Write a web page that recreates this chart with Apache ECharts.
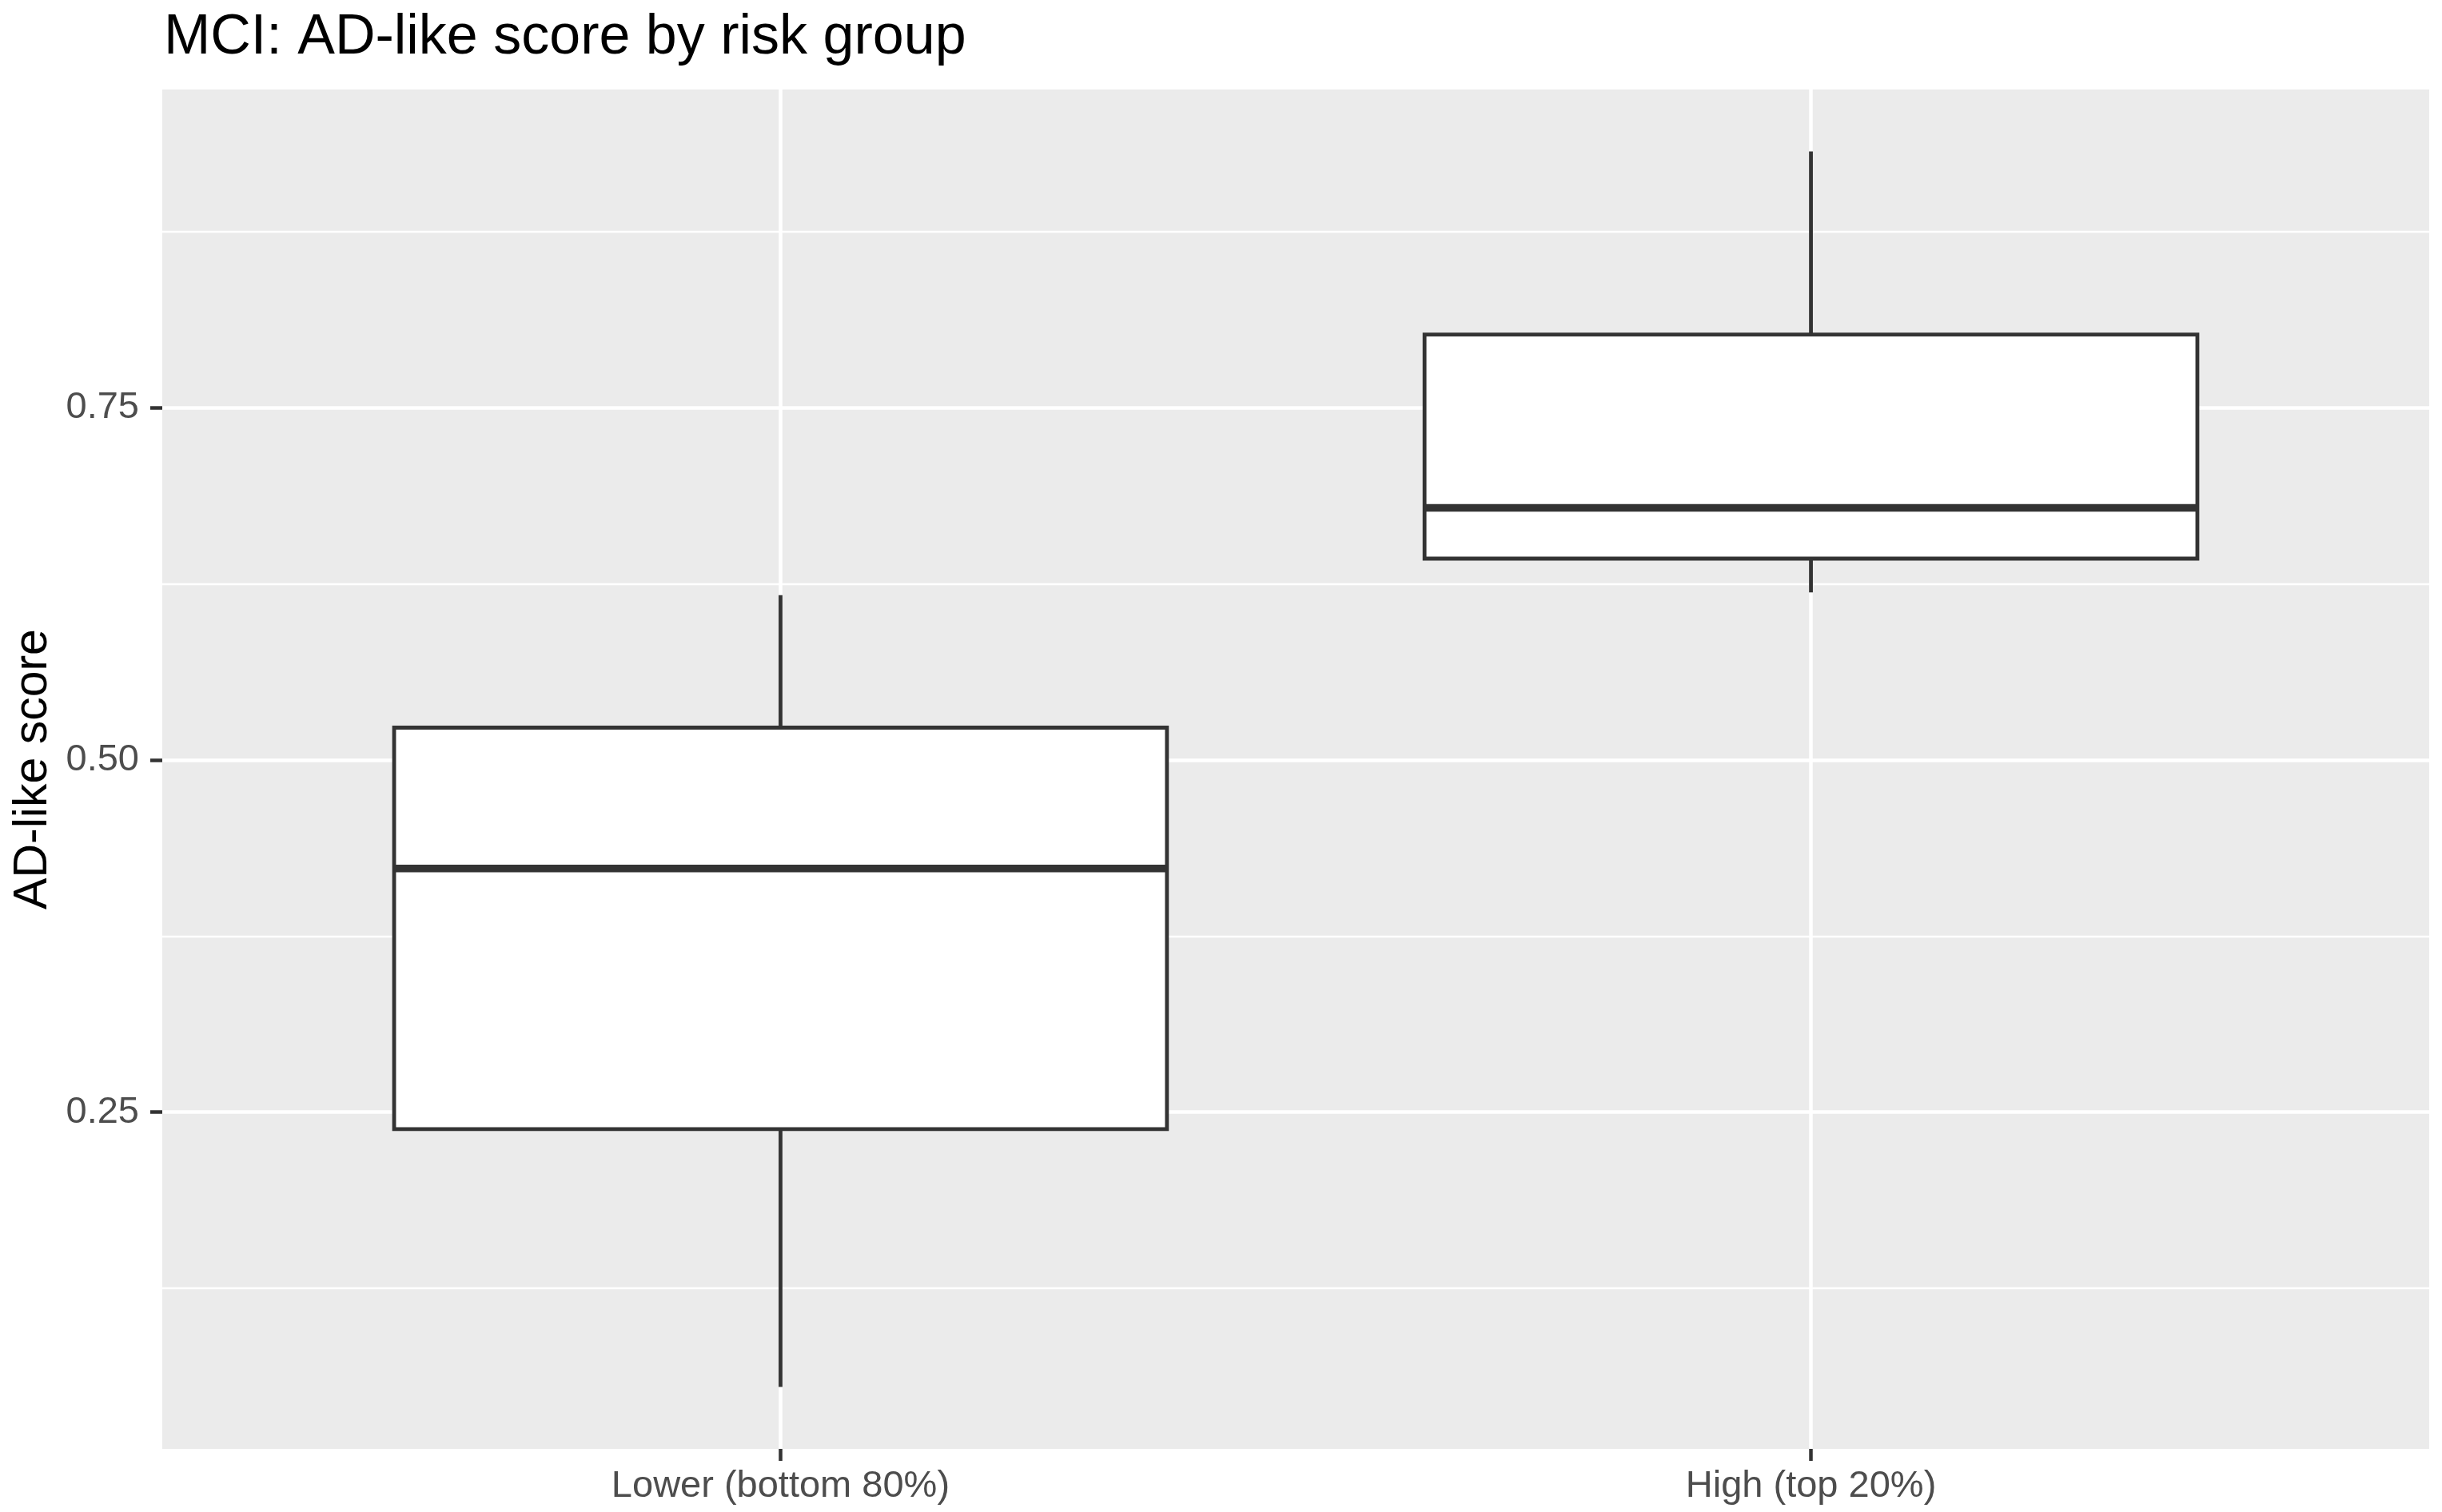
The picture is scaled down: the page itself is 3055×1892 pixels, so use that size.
<!DOCTYPE html>
<html>
<head>
    <meta charset="utf-8">
    <title>MCI: AD-like score by risk group</title>
    <script type="text/javascript" src="https://cdn.jsdelivr.net/npm/echarts@6/dist/echarts.min.js"></script>
    <style>
        html, body { margin: 0; padding: 0; background: #fff; }
        #chartmain { width: 3055px; height: 1892px; }
    </style>
</head>
<body>
<div id="chartmain"></div>

<script type="text/javascript">
    // groups on the x axis, drawn at positions 1 and 2 (ggplot style discrete axis)
    var groups = ['Lower (bottom 80%)', 'High (top 20%)'];
    var groupPos = [1, 2];

    // box statistics
    var whiskerLow  = [0.055, 0.619];
    var q1          = [0.238, 0.643];
    var median      = [0.423, 0.679];
    var q3          = [0.523, 0.802];
    var whiskerHigh = [0.617, 0.932];

    // axis ticks and ranges
    var yTicks = [0.25, 0.50, 0.75];
    var yMinorLines = [0.125, 0.375, 0.625, 0.875];
    var yRange = [0.011, 0.976];
    var xRange = [0.4, 2.6];
    var boxWidth = 0.75;   // in x units, like geom_boxplot

    var font = 'Liberation Sans, Arial, Helvetica, sans-serif';
    var ink = '#333333';

    // one row per box: [x, low, q1, median, q3, high]
    var boxData = [];
    for (var i = 0; i < groups.length; i++) {
        boxData.push([groupPos[i], whiskerLow[i], q1[i], median[i], q3[i], whiskerHigh[i]]);
    }

    function renderBox(params, api) {
        var x = api.value(0);
        var pLow = api.coord([x, api.value(1)]);
        var pQ1 = api.coord([x, api.value(2)]);
        var pMed = api.coord([x, api.value(3)]);
        var pQ3 = api.coord([x, api.value(4)]);
        var pHigh = api.coord([x, api.value(5)]);
        var half = api.size([boxWidth, 0])[0] / 2;
        var lineStyle = { stroke: ink, lineWidth: 4.8 };
        return {
            type: 'group',
            children: [
                { type: 'line', shape: { x1: pLow[0], y1: pLow[1], x2: pQ1[0], y2: pQ1[1] }, style: lineStyle },
                { type: 'line', shape: { x1: pQ3[0], y1: pQ3[1], x2: pHigh[0], y2: pHigh[1] }, style: lineStyle },
                { type: 'rect', shape: { x: pQ3[0] - half, y: pQ3[1], width: half * 2, height: pQ1[1] - pQ3[1] },
                  style: { fill: '#ffffff', stroke: ink, lineWidth: 4.8 } },
                { type: 'line', shape: { x1: pMed[0] - half, y1: pMed[1], x2: pMed[0] + half, y2: pMed[1] },
                  style: { stroke: ink, lineWidth: 9.5 } }
            ]
        };
    }

    var option = {
        animation: false,
        backgroundColor: '#ffffff',
        title: {
            text: 'MCI: AD-like score by risk group',
            left: 205,
            top: 13,
            padding: 0,
            textStyle: { fontFamily: font, fontSize: 70, fontWeight: 'normal', color: '#000000' }
        },
        grid: {
            left: 203, right: 16, top: 112, bottom: 79,
            show: true,
            backgroundColor: '#EBEBEB',
            borderWidth: 0,
            containLabel: false,
            outerBoundsMode: 'none'
        },
        xAxis: {
            type: 'value',
            min: xRange[0],
            max: xRange[1],
            axisLine: { show: false },
            axisTick: { show: true, customValues: groupPos, length: 15, lineStyle: { color: ink, width: 4.5 } },
            axisLabel: {
                customValues: groupPos,
                margin: 24,
                fontFamily: font, fontSize: 47, color: '#4D4D4D',
                formatter: function (v) { return groups[groupPos.indexOf(v)]; }
            },
            splitLine: { show: true, lineStyle: { color: '#ffffff', width: 4.5 } }
        },
        yAxis: [{
            type: 'value',
            min: yRange[0],
            max: yRange[1],
            name: 'AD-like score',
            nameLocation: 'middle',
            nameGap: 132,
            nameTextStyle: { fontFamily: font, fontSize: 59, color: '#000000' },
            axisLine: { show: false },
            axisTick: { show: true, customValues: yTicks, length: 15, lineStyle: { color: ink, width: 4.5 } },
            axisLabel: {
                customValues: yTicks,
                margin: 29,
                fontFamily: font, fontSize: 47, color: '#4D4D4D',
                formatter: function (v) { return v.toFixed(2); }
            },
            splitLine: { show: true, lineStyle: { color: '#ffffff', width: 4.5 } }
        }, {
            // only used for the thin minor grid lines
            type: 'value',
            position: 'right',
            min: yRange[0],
            max: yRange[1],
            axisLine: { show: false },
            axisTick: { show: false, customValues: yMinorLines },
            axisLabel: { show: false, customValues: yMinorLines },
            splitLine: { show: true, lineStyle: { color: '#ffffff', width: 2.3 } }
        }],
        series: [{
            type: 'custom',
            renderItem: renderBox,
            encode: { x: 0, y: [1, 2, 3, 4, 5] },
            data: boxData,
            z: 5
        }]
    };

    var myChart = echarts.init(document.getElementById('chartmain'));
    myChart.setOption(option);
</script>
</body>
</html>
